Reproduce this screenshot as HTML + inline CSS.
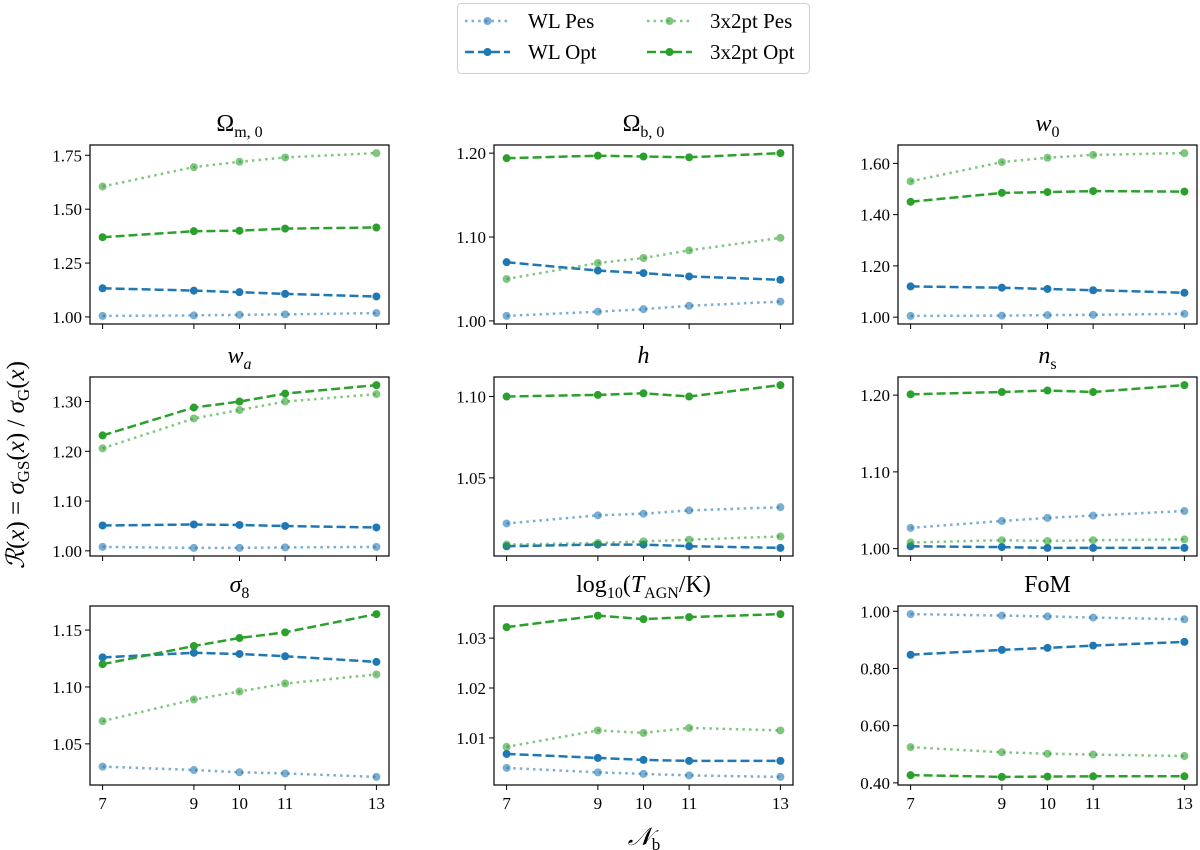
<!DOCTYPE html>
<html><head><meta charset="utf-8">
<style>
html,body{margin:0;padding:0;background:#fff;}
svg{display:block;font-family:"Liberation Serif","DejaVu Serif",serif;}
</style></head>
<body>
<svg id="chart" width="1200" height="850" viewBox="0 0 1200 850" xmlns="http://www.w3.org/2000/svg">
  <g>
    <rect x="457.5" y="3.5" width="352" height="70" rx="4" fill="#fff" stroke="#d0d0d0" stroke-width="1"/>
    <g>
      <line x1="465" y1="21" x2="510" y2="21" stroke="#1f77b4" stroke-opacity="0.6" stroke-width="2.5" stroke-dasharray="2.5,4.1"/>
      <circle cx="487.5" cy="21" r="4" fill="#1f77b4" fill-opacity="0.6"/>
      <text x="528" y="28" font-size="21">WL Pes</text>
    </g>
    <g>
      <line x1="465" y1="52" x2="510" y2="52" stroke="#1f77b4" stroke-width="2.5" stroke-dasharray="9,4"/>
      <circle cx="487.5" cy="52" r="4" fill="#1f77b4"/>
      <text x="528" y="59" font-size="21">WL Opt</text>
    </g>
    <g>
      <line x1="647" y1="21" x2="692" y2="21" stroke="#2ca02c" stroke-opacity="0.6" stroke-width="2.5" stroke-dasharray="2.5,4.1"/>
      <circle cx="669.5" cy="21" r="4" fill="#2ca02c" fill-opacity="0.6"/>
      <text x="710" y="28" font-size="21">3x2pt Pes</text>
    </g>
    <g>
      <line x1="647" y1="52" x2="692" y2="52" stroke="#2ca02c" stroke-width="2.5" stroke-dasharray="9,4"/>
      <circle cx="669.5" cy="52" r="4" fill="#2ca02c"/>
      <text x="710" y="59" font-size="21">3x2pt Opt</text>
    </g>
  </g>
  <text transform="translate(24,465) rotate(-90)" text-anchor="middle" font-size="25"><tspan font-style="italic">ℛ</tspan>(<tspan font-style="italic">x</tspan>) = <tspan font-style="italic">σ</tspan><tspan font-size="17" dy="5">GS</tspan><tspan dy="-5">(</tspan><tspan font-style="italic">x</tspan>) / <tspan font-style="italic">σ</tspan><tspan font-size="17" dy="5">G</tspan><tspan dy="-5">(</tspan><tspan font-style="italic">x</tspan>)</text>
  <text x="644" y="845" text-anchor="middle" font-size="25"><tspan font-style="italic">𝒩</tspan><tspan font-size="17" dy="5">b</tspan></text>
  <g id="panels"></g>
</svg>
<script>
const nb = [7, 9, 10, 11, 13];
const xTickLabels = ["7", "9", "10", "11", "13"];
const seriesNames = ["WL Pes", "WL Opt", "3x2pt Pes", "3x2pt Opt"];
const titles = [
  'Ω<tspan font-size="16" dy="6">m, 0</tspan>',
  'Ω<tspan font-size="16" dy="6">b, 0</tspan>',
  '<tspan font-style="italic">w</tspan><tspan font-size="16" dy="6">0</tspan>',
  '<tspan font-style="italic">w</tspan><tspan font-size="16" dy="6" font-style="italic">a</tspan>',
  '<tspan font-style="italic">h</tspan>',
  '<tspan font-style="italic">n</tspan><tspan font-size="16" dy="6">s</tspan>',
  '<tspan font-style="italic">σ</tspan><tspan font-size="16" dy="6">8</tspan>',
  'log<tspan font-size="16" dy="6">10</tspan><tspan dy="-6">(</tspan><tspan font-style="italic">T</tspan><tspan font-size="16" dy="6">AGN</tspan><tspan dy="-6">/K)</tspan>',
  'FoM'
];
const wlPes = [
  [1.005,1.007,1.010,1.012,1.018],
  [1.006,1.011,1.014,1.018,1.023],
  [1.005,1.006,1.008,1.009,1.013],
  [1.008,1.006,1.006,1.007,1.008],
  [1.022,1.027,1.028,1.030,1.032],
  [1.027,1.036,1.040,1.043,1.049],
  [1.030,1.027,1.025,1.024,1.021],
  [1.0040,1.0031,1.0028,1.0025,1.0022],
  [0.990,0.985,0.982,0.978,0.972]
];
const wlOpt = [
  [1.133,1.122,1.115,1.107,1.095],
  [1.070,1.060,1.057,1.053,1.049],
  [1.120,1.115,1.110,1.105,1.095],
  [1.051,1.053,1.052,1.050,1.047],
  [1.008,1.009,1.009,1.008,1.007],
  [1.003,1.002,1.001,1.001,1.001],
  [1.126,1.130,1.129,1.127,1.122],
  [1.0068,1.0060,1.0056,1.0054,1.0054],
  [0.848,0.865,0.872,0.880,0.893]
];
const x2Pes = [
  [1.605,1.695,1.720,1.740,1.760],
  [1.050,1.069,1.075,1.084,1.099],
  [1.530,1.605,1.622,1.633,1.640],
  [1.206,1.266,1.283,1.300,1.315],
  [1.009,1.010,1.011,1.012,1.014],
  [1.008,1.011,1.010,1.011,1.012],
  [1.070,1.089,1.096,1.103,1.111],
  [1.0082,1.0115,1.0110,1.0120,1.0115],
  [0.525,0.507,0.502,0.499,0.494]
];
const x2Opt = [
  [1.370,1.398,1.400,1.410,1.415],
  [1.194,1.197,1.196,1.195,1.200],
  [1.450,1.485,1.488,1.492,1.490],
  [1.232,1.288,1.300,1.316,1.333],
  [1.100,1.101,1.102,1.100,1.107],
  [1.201,1.204,1.206,1.204,1.213],
  [1.120,1.136,1.143,1.148,1.164],
  [1.0322,1.0345,1.0338,1.0342,1.0348],
  [0.427,0.421,0.422,0.423,0.423]
];
const yTicks = [
  [1.00,1.25,1.50,1.75],
  [1.00,1.10,1.20],
  [1.00,1.20,1.40,1.60],
  [1.00,1.10,1.20,1.30],
  [1.05,1.10],
  [1.00,1.10,1.20],
  [1.05,1.10,1.15],
  [1.01,1.02,1.03],
  [0.40,0.60,0.80,1.00]
];
const yTickLabels = [
  ["1.00","1.25","1.50","1.75"],
  ["1.00","1.10","1.20"],
  ["1.00","1.20","1.40","1.60"],
  ["1.00","1.10","1.20","1.30"],
  ["1.05","1.10"],
  ["1.00","1.10","1.20"],
  ["1.05","1.10","1.15"],
  ["1.01","1.02","1.03"],
  ["0.40","0.60","0.80","1.00"]
];
const NS = "http://www.w3.org/2000/svg";
const root = document.getElementById("panels");
const colLeft = [90, 494, 898], rowTop = [145, 377, 606];
const PW = 299, PH = 179;
const styles = [
  {c:"#1f77b4", o:0.6, d:"2.5,4.1", key:"wl-pes"},
  {c:"#1f77b4", o:1, d:"9,4", key:"wl-opt"},
  {c:"#2ca02c", o:0.6, d:"2.5,4.1", key:"3x2pt-pes"},
  {c:"#2ca02c", o:1, d:"9,4", key:"3x2pt-opt"}
];
function mk(tag, attrs, parent){
  const e = document.createElementNS(NS, tag);
  for (const k in attrs) e.setAttribute(k, attrs[k]);
  parent.appendChild(e);
  return e;
}
const xMin = Math.min(...nb), xMax = Math.max(...nb);
const xPad = (xMax - xMin) * 0.046;
for (let p = 0; p < 9; p++) {
  const L = colLeft[p % 3], T = rowTop[Math.floor(p / 3)];
  const all = [wlPes[p], wlOpt[p], x2Pes[p], x2Opt[p]];
  const flat = all.flat();
  const lo = Math.min(...flat), hi = Math.max(...flat), m = (hi - lo) * 0.05;
  const y0 = lo - m, y1 = hi + m;
  const xs = v => L + (v - (xMin - xPad)) / ((xMax + xPad) - (xMin - xPad)) * PW;
  const ys = v => T + PH - (v - y0) / (y1 - y0) * PH;
  const g = mk("g", {}, root);
  
  
  const title = mk("text", {x: L + PW / 2, y: T - 14, "text-anchor": "middle", "font-size": "24"}, g);
  title.innerHTML = titles[p];
  
  
  yTicks[p].forEach((t, i) => {
    const y = ys(t);
    const tl = mk("line", {x1: L - 5, x2: L, y1: y, y2: y, stroke: "#000", "stroke-width": 1}, g);
    
    
    const tx = mk("text", {x: L - 8, y: y + 6, "text-anchor": "end", "font-size": "17"}, g);
    tx.textContent = yTickLabels[p][i];
    
    
  });
  nb.forEach((v, i) => {
    const x = xs(v);
    const tl = mk("line", {x1: x, x2: x, y1: T + PH, y2: T + PH + 5, stroke: "#000", "stroke-width": 1}, g);
    
    
    if (p >= 6) {
      const tx = mk("text", {x: x, y: T + PH + 24, "text-anchor": "middle", "font-size": "17"}, g);
      tx.textContent = xTickLabels[i];
      
      
    }
  });
  all.forEach((vals, s) => {
    const st = styles[s];
    const pts = vals.map((v, i) => xs(nb[i]).toFixed(1) + "," + ys(v).toFixed(1)).join(" ");
    const sg = mk("g", {}, g);
    
    
    const pl = mk("polyline", {points: pts, fill: "none", stroke: st.c, "stroke-opacity": st.o, "stroke-width": 2.5, "stroke-dasharray": st.d}, sg);
    
    
    vals.forEach((v, i) => {
      const c = mk("circle", {cx: xs(nb[i]), cy: ys(v), r: 4, fill: st.c, "fill-opacity": st.o}, sg);
      
      
    });
  });
  const box = mk("rect", {x: L, y: T, width: PW, height: PH, fill: "none", stroke: "#000", "stroke-width": 1.2}, g);
  
  
}
</script>
</body></html>
